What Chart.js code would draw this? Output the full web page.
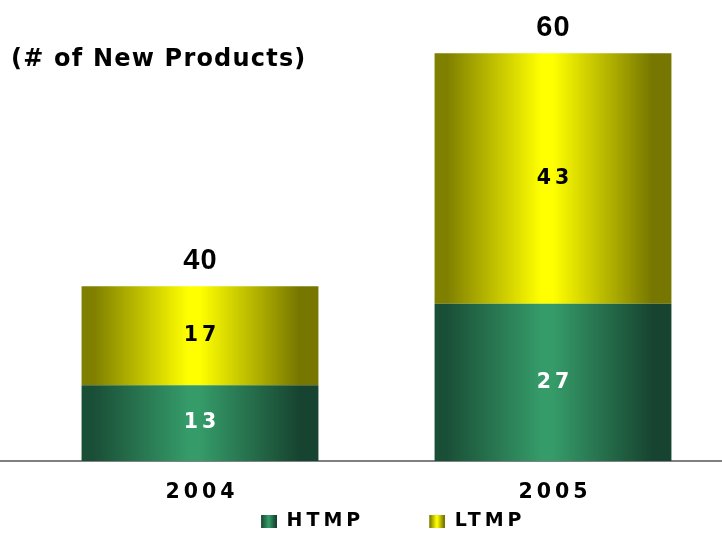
<!DOCTYPE html>
<html>
<head>
<meta charset="utf-8">
<script src="https://cdn.jsdelivr.net/npm/chart.js@4/dist/chart.umd.min.js"></script>
<style>
    html, body { margin: 0; padding: 0; overflow: hidden; background: #fff; }
    #wrap { position: relative; width: 722px; height: 533px; overflow: hidden; }
    #title {
        position: absolute; left: 11px; top: 45.5px;
        font: bold 24px "DejaVu Sans", Verdana, sans-serif;
        line-height: 24px; letter-spacing: 1.2px; color: #000;
        white-space: nowrap;
    }
    canvas { position: absolute; left: -2px; top: 0; }
</style>
</head>
<body>
<div id="wrap">
    <canvas id="chart" width="732" height="533"></canvas>
    <div id="title">(# of New Products)</div>
</div>
<script>
// values
var years = ["2004", "2005"];
var htmp = [13, 27];
var ltmp = [17, 43];
var totals = [40, 60];
var yMax = 75;

var WIDE = '"DejaVu Sans", Verdana, sans-serif';
var NARROW = '"Liberation Sans", Arial, sans-serif';
var BAR_PERCENT = 0.671;

var greenStops = ["#1a4f37", "#1a4f37", "#359b69", "#359b69", "#174430", "#174430"];
var yellowStops = ["#7f7f00", "#7f7f00", "#ffff00", "#ffff00", "#767600", "#767600"];
var stopAt = [0, 0.05, 0.45, 0.5, 0.92, 1];

function fillStops(g, stops) {
    for (var i = 0; i < stops.length; i++) {
        g.addColorStop(stopAt[i], stops[i]);
    }
    return g;
}

function barGradient(stops) {
    return function(context) {
        var chart = context.chart;
        var area = chart.chartArea;
        if (!area || context.dataIndex === undefined) {
            return stops[2];
        }
        var x = chart.scales.x.getPixelForValue(context.dataIndex);
        var half = (area.right - area.left) / years.length * BAR_PERCENT / 2;
        return fillStops(chart.ctx.createLinearGradient(x - half, 0, x + half, 0), stops);
    };
}

// legend swatch: box sits at the right end of a wider transparent image
function swatch(stops) {
    var c = document.createElement("canvas");
    c.width = 75;
    c.height = 13;
    var cx = c.getContext("2d");
    cx.fillStyle = fillStops(cx.createLinearGradient(59, 0, 75, 0), stops);
    cx.fillRect(59, 0, 16, 13);
    return c;
}

var spacingPlugin = {
    id: "spacing",
    beforeLayout: function(chart) {
        chart.ctx.letterSpacing = "4px";
    },
    beforeDraw: function(chart) {
        chart.ctx.letterSpacing = "4px";
    }
};

var baselinePlugin = {
    id: "baseline",
    beforeDatasetsDraw: function(chart) {
        var ctx = chart.ctx;
        var y = chart.scales.y.getPixelForValue(0);
        ctx.save();
        ctx.strokeStyle = "#808080";
        ctx.lineWidth = 2;
        ctx.beginPath();
        ctx.moveTo(0, y);
        ctx.lineTo(chart.width, y);
        ctx.stroke();
        ctx.restore();
    }
};

var labelsPlugin = {
    id: "barLabels",
    afterDatasetsDraw: function(chart) {
        var ctx = chart.ctx;
        ctx.save();
        ctx.textAlign = "center";

        // values inside the segments
        ctx.letterSpacing = "4px";
        ctx.font = "bold 20.5px " + WIDE;
        ctx.textBaseline = "middle";
        chart.data.datasets.forEach(function(ds, di) {
            var meta = chart.getDatasetMeta(di);
            ctx.fillStyle = di === 0 ? "#ffffff" : "#000000";
            meta.data.forEach(function(bar, i) {
                ctx.fillText(String(ds.data[i]), bar.x + 2, (bar.y + bar.base) / 2);
            });
        });

        // totals above the bars
        ctx.letterSpacing = "1px";
        ctx.font = "bold 29px " + NARROW;
        ctx.textBaseline = "alphabetic";
        ctx.fillStyle = "#000000";
        var top = chart.getDatasetMeta(chart.data.datasets.length - 1);
        top.data.forEach(function(bar, i) {
            ctx.fillText(String(totals[i]), bar.x + 0.5, bar.y - 17);
        });
        ctx.restore();
    }
};

var swatches = [swatch(greenStops), swatch(yellowStops)];

var chart = new Chart(document.getElementById("chart"), {
    type: "bar",
    data: {
        labels: years,
        datasets: [
            { label: "HTMP", data: htmp, backgroundColor: barGradient(greenStops) },
            { label: "LTMP", data: ltmp, backgroundColor: barGradient(yellowStops) }
        ]
    },
    options: {
        responsive: false,
        animation: false,
        events: [],
        layout: { padding: { left: 0, right: 0.5, top: 24, bottom: 0 } },
        datasets: {
            bar: { barPercentage: BAR_PERCENT, categoryPercentage: 1, borderWidth: 0 }
        },
        scales: {
            x: {
                stacked: true,
                grid: { display: false, drawTicks: false },
                border: { display: false },
                ticks: {
                    color: "#000",
                    font: { family: WIDE, size: 20.5, weight: "bold" },
                    padding: 19,
                    labelOffset: 2,
                    maxRotation: 0
                },
                afterFit: function(scale) { scale.height = 45; }
            },
            y: {
                stacked: true,
                min: 0,
                max: yMax,
                grid: { display: false, drawTicks: false },
                border: { display: false },
                ticks: { display: false },
                afterFit: function(scale) { scale.width = 25.5; }
            }
        },
        plugins: {
            title: { display: false },
            tooltip: { enabled: false },
            legend: {
                position: "bottom",
                maxHeight: 27,
                labels: {
                    usePointStyle: true,
                    pointStyleWidth: 75,
                    boxHeight: 13,
                    padding: 6,
                    color: "#000",
                    font: { family: WIDE, size: 19, weight: "bold" },
                    generateLabels: function(chart) {
                        return chart.data.datasets.map(function(ds, i) {
                            return {
                                text: ds.label,
                                pointStyle: swatches[i],
                                fillStyle: "transparent",
                                strokeStyle: "transparent",
                                lineWidth: 0,
                                hidden: false,
                                datasetIndex: i
                            };
                        });
                    }
                }
            }
        }
    },
    plugins: [spacingPlugin, baselinePlugin, labelsPlugin]
});
</script>
</body>
</html>
